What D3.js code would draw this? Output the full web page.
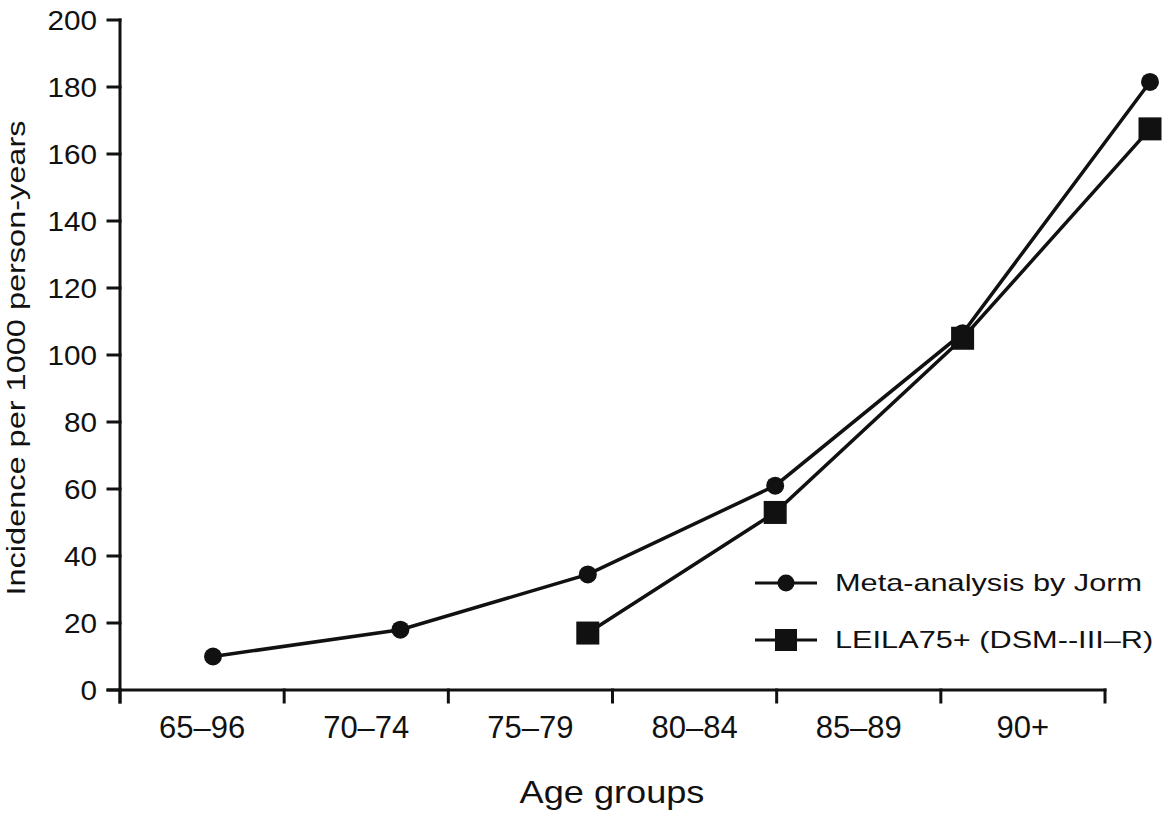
<!DOCTYPE html>
<html>
<head>
<meta charset="utf-8">
<script src="https://cdn.jsdelivr.net/npm/d3@7"></script>
<style>
  html, body { margin: 0; padding: 0; background: #fff; }
  svg { display: block; }
  text { font-family: "Liberation Sans", Arial, Helvetica, sans-serif; fill: #111; }
</style>
</head>
<body>
<svg id="chart" width="1169" height="813"></svg>
<script>
// ---- data ----
const categories = ["65\u201396", "70\u201374", "75\u201379", "80\u201384", "85\u201389", "90+"];
const jormValues = [10, 18, 34.5, 61, 106.5, 181.5];
const leilaCategories = ["75\u201379", "80\u201384", "85\u201389", "90+"];
const leilaValues = [17, 53, 105, 167.5];
const yTicks = [0, 20, 40, 60, 80, 100, 120, 140, 160, 180, 200];
const seriesNames = ["Meta-analysis by Jorm", "LEILA75+ (DSM--III\u2013R)"];
const xTitle = "Age groups";
const yTitle = "Incidence per 1000 person-years";

// ---- layout ----
const svg = d3.select("#chart");
const axisX0 = 120, axisX1 = 1105, axisY0 = 690, axisYTop = 20;
const ink = "#111";

const y = d3.scaleLinear().domain([0, 200]).range([axisY0, axisYTop]);
const band = d3.scaleBand().domain(categories).range([axisX0, axisX1]);
const pt = d3.scalePoint().domain(categories).range([213, 1150]);

// axes
const axes = svg.append("g").attr("stroke", ink).attr("stroke-width", 3).attr("stroke-linecap", "square");
axes.append("line").attr("x1", axisX0).attr("x2", axisX0).attr("y1", y(200)).attr("y2", axisY0 + 12);
axes.append("line").attr("x1", axisX0 - 12).attr("x2", axisX1).attr("y1", axisY0).attr("y2", axisY0);
axes.selectAll(".yt").data(yTicks).join("line")
  .attr("x1", axisX0 - 12).attr("x2", axisX0).attr("y1", d => y(d)).attr("y2", d => y(d));
const bounds = categories.map(c => band(c)).concat([band(categories[categories.length - 1]) + band.bandwidth()]);
axes.selectAll(".xt").data(bounds).join("line")
  .attr("x1", d => d).attr("x2", d => d).attr("y1", axisY0).attr("y2", axisY0 + 12);

// y tick labels
svg.append("g").selectAll("text").data(yTicks).join("text")
  .attr("transform", d => `translate(97,${y(d) + 9.5}) scale(1.1,1)`)
  .attr("text-anchor", "end").attr("font-size", 27)
  .text(d => d);

// x tick labels
svg.append("g").selectAll("text").data(categories).join("text")
  .attr("x", d => band(d) + band.bandwidth() / 2).attr("y", 738)
  .attr("text-anchor", "middle").attr("font-size", 31)
  .text(d => d);

// titles
svg.append("text").attr("transform", `translate(612,803) scale(1.13,1)`)
  .attr("text-anchor", "middle").attr("font-size", 32).text(xTitle);
svg.append("text").attr("transform", `translate(25,358) rotate(-90) scale(1.25,1)`)
  .attr("text-anchor", "middle").attr("font-size", 26).text(yTitle);

// lines
const line = d3.line().x(d => pt(d[0])).y(d => y(d[1]));
const jorm = categories.map((c, i) => [c, jormValues[i]]);
const leila = leilaCategories.map((c, i) => [c, leilaValues[i]]);

svg.append("path").datum(jorm).attr("d", line)
  .attr("fill", "none").attr("stroke", ink).attr("stroke-width", 3.5);
svg.append("path").datum(leila).attr("d", line)
  .attr("fill", "none").attr("stroke", ink).attr("stroke-width", 3.5);

svg.append("g").selectAll("circle").data(jorm).join("circle")
  .attr("cx", d => pt(d[0])).attr("cy", d => y(d[1])).attr("r", 9).attr("fill", ink);
const sq = 23;
svg.append("g").selectAll("rect").data(leila).join("rect")
  .attr("x", d => pt(d[0]) - sq / 2).attr("y", d => y(d[1]) - sq / 2)
  .attr("width", sq).attr("height", sq).attr("fill", ink);

// legend
const legend = svg.append("g");
const rows = [583, 640];
rows.forEach((ry, i) => {
  legend.append("line").attr("x1", 755).attr("x2", 817).attr("y1", ry).attr("y2", ry)
    .attr("stroke", ink).attr("stroke-width", 3);
  if (i === 0) legend.append("circle").attr("cx", 786).attr("cy", ry).attr("r", 8.5).attr("fill", ink);
  else legend.append("rect").attr("x", 786 - 11).attr("y", ry - 11).attr("width", 22).attr("height", 22).attr("fill", ink);
  legend.append("text").attr("transform", `translate(835,${ry + 8}) scale(1.28,1)`)
    .attr("font-size", 24).text(seriesNames[i]);
});
</script>
</body>
</html>
